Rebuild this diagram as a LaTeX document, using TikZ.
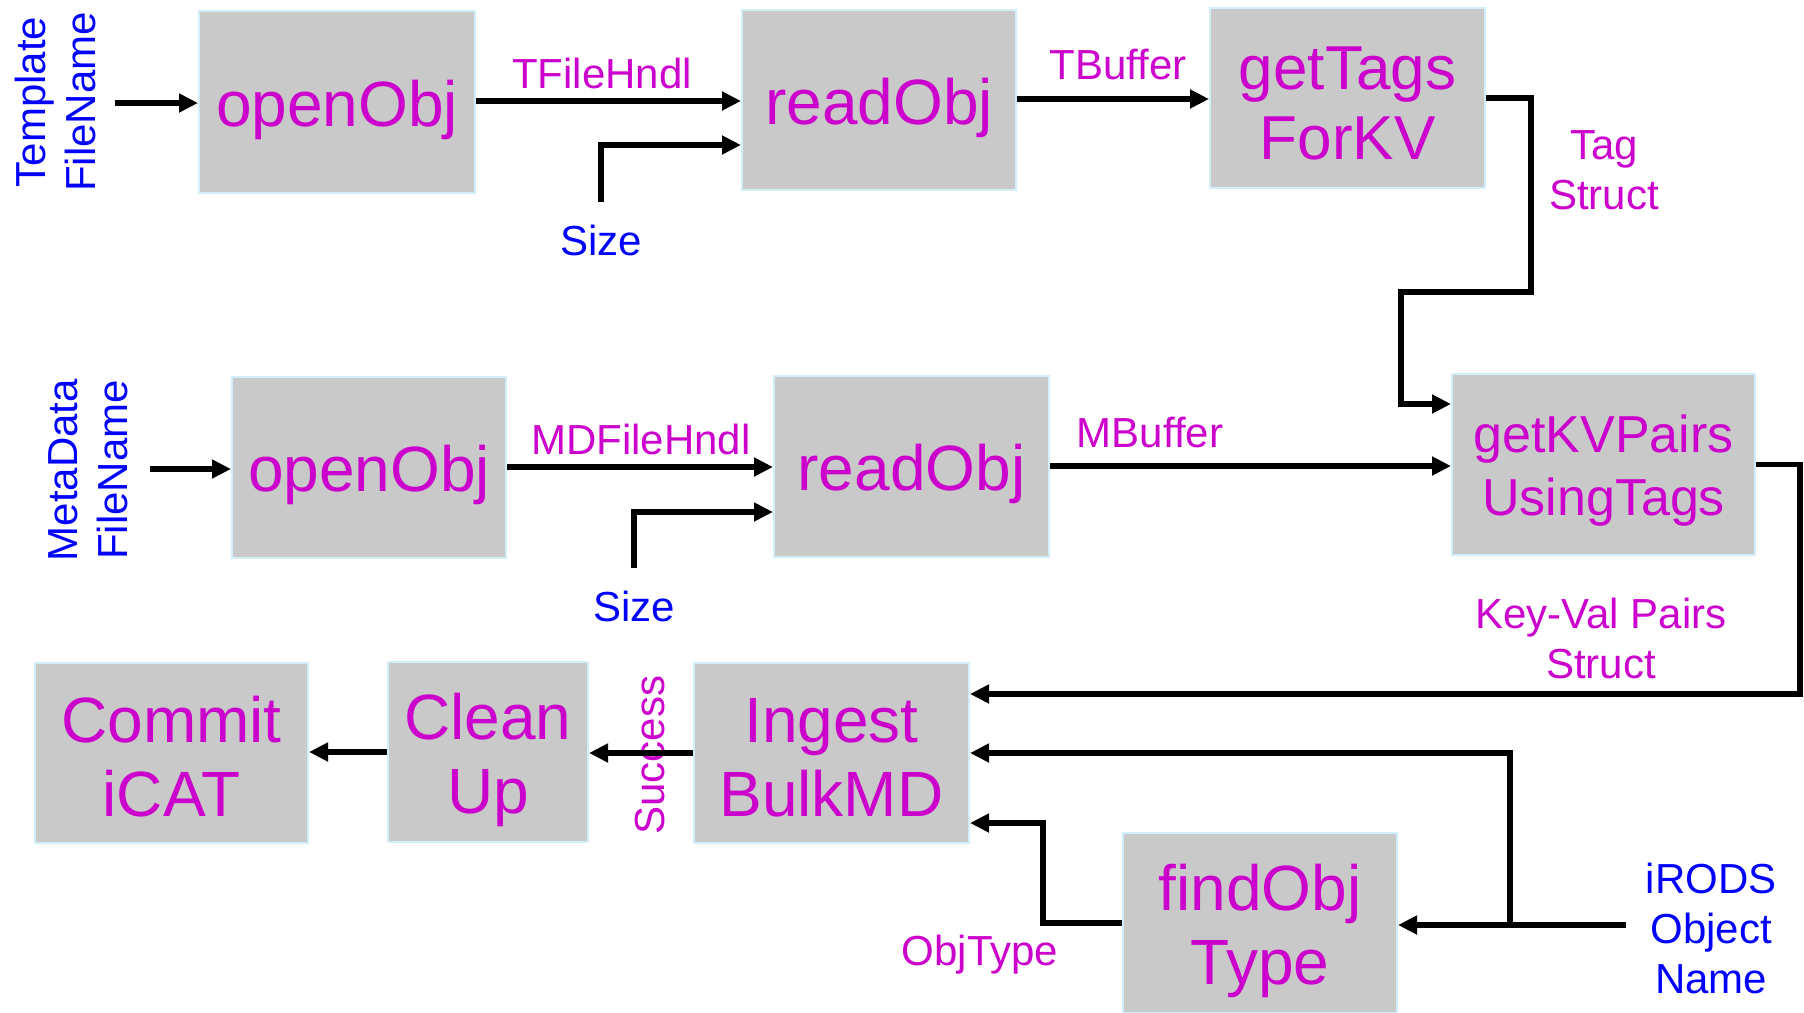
\documentclass[tikz,border=0pt]{standalone}
\usepackage{fontspec}
\setmainfont{Liberation Sans}
\usetikzlibrary{arrows.meta}

\definecolor{mag}{HTML}{CC00CC}
\definecolor{inblue}{HTML}{0000FF}
\definecolor{boxfill}{HTML}{C9C9C9}
\definecolor{boxedge}{HTML}{D2EEFA}

\newcommand{\procfont}{\fontsize{64}{74}\selectfont}
\newcommand{\tagsfont}{\fontsize{62}{70}\selectfont}
\newcommand{\kvfont}{\fontsize{52}{63}\selectfont}
\newcommand{\labfont}{\fontsize{42}{50}\selectfont}
% fixed line extents, so every box text sits on the same baseline grid
\newcommand{\hi}{\rule{0pt}{62pt}}
\newcommand{\lo}{\rule[-10pt]{0pt}{0pt}}
\newcommand{\khi}{\rule{0pt}{50pt}}
\newcommand{\klo}{\rule[-8pt]{0pt}{0pt}}

\tikzset{
  proc/.style={draw=boxedge, line width=2pt, fill=boxfill, inner sep=0pt,
               text=mag, align=center, font=\procfont,
               minimum width=274pt, minimum height=180pt},
  wire/.style={line width=5.5pt},
  arr/.style={line width=5.5pt, -{Triangle[length=19pt,width=18pt]}},
  lab/.style={text=mag, font=\labfont, align=center, inner sep=0pt},
  inlab/.style={text=inblue, font=\labfont, align=center, inner sep=0pt}
}

\begin{document}
\begin{tikzpicture}[x=1pt, y=-1pt]
\useasboundingbox (0,0) rectangle (1804,1012);

% processing steps
\node[proc, minimum width=276pt, minimum height=182pt] (open1) at (337,102) {\hi openObj\lo};
\node[proc] (read1) at (879,100) {\hi readObj\lo};
\node[proc, font=\tagsfont, minimum width=275pt] (tags) at (1347.5,98) {\hi getTags\\ForKV\lo};
\node[proc, minimum height=181pt] (open2) at (369,467.5) {\hi openObj\lo};
\node[proc, minimum width=275pt, minimum height=181pt] (read2) at (911.5,466.5) {\hi readObj\lo};
\node[proc, font=\kvfont, minimum width=303pt, minimum height=181pt] (kv) at (1603.5,464.5) {\khi getKVPairs\\UsingTags\klo};
\node[proc, minimum width=273pt] (commit) at (171.5,753) {\hi Commit\\iCAT\lo};
\node[proc, minimum width=200pt] (clean) at (488,752) {\hi Clean\\Up\lo};
\node[proc, minimum width=275pt] (ingest) at (831.5,753) {\hi Ingest\\BulkMD\lo};
\node[proc] (find) at (1260,923) {\hi findObj\\Type\lo};

% inputs
\node[inlab, rotate=90] (tfn) at (55,102) {Template\\FileName};
\node[inlab, rotate=90] (mfn) at (88,470) {MetaData\\FileName};
\node[inlab, anchor=base] (size1) at (601,255) {Size};
\node[inlab, anchor=base] (size2) at (634,621) {Size};
\node[inlab] (irods) at (1711,928) {iRODS\\Object\\Name};

% data labels
\node[lab, anchor=base] (tfh) at (602,88) {TFileHndl};
\node[lab, anchor=base] (tbuf) at (1118,79) {TBuffer};
\node[lab] (tstruct) at (1604,170) {Tag\\Struct};
\node[lab, anchor=base] (mdfh) at (641,454) {MDFileHndl};
\node[lab, anchor=base] (mbuf) at (1150,447) {MBuffer};
\node[lab] (kvstruct) at (1601,638) {Key-Val Pairs\\Struct};
\node[lab, rotate=90] (succ) at (650,755) {Success};
\node[lab, anchor=base] (otype) at (980,965) {ObjType};

% free ends of input connectors
\coordinate (tfnEnd) at (115,103);
\coordinate (mfnEnd) at (150,469);
\coordinate (sz1End) at (601,202);
\coordinate (sz2End) at (634,568);
\coordinate (irEnd) at (1626,925);
\coordinate (irSplit) at (1510,925);

% template chain
\draw[arr] (tfnEnd) -- (open1.west |- tfnEnd);
\draw[arr] (open1.east |- 0,101) -- (read1.west |- 0,101);
\draw[arr] (sz1End) |- (read1.west |- 0,145);
\draw[arr] (read1.east |- 0,99) -- (tags.west |- 0,99);
\draw[arr] (tags.east) -- (1531,98) -- (1531,292) -- (1401,292) -- (1401,404) -- (kv.west |- 0,404);

% metadata chain
\draw[arr] (mfnEnd) -- (open2.west |- mfnEnd);
\draw[arr] (open2.east |- 0,467) -- (read2.west |- 0,467);
\draw[arr] (sz2End) |- (read2.west |- 0,512);
\draw[arr] (read2.east |- 0,466) -- (kv.west |- 0,466);
\draw[arr] (kv.east) -- (1800,464.5) -- (1800,694) -- (ingest.east |- 0,694);

% object name and type
\draw[arr] (irEnd) -- (find.east |- irEnd);
\draw[arr] (irSplit) -- (1510,753) -- (ingest.east |- 0,753);
\draw[arr] (find.west) -- (1043,923) -- (1043,823) -- (ingest.east |- 0,823);

% ingest, clean up and commit
\draw[arr] (ingest.west |- 0,753) -- (clean.east |- 0,753);
\draw[arr] (clean.west |- 0,752) -- (commit.east |- 0,752);
\end{tikzpicture}
\end{document}
